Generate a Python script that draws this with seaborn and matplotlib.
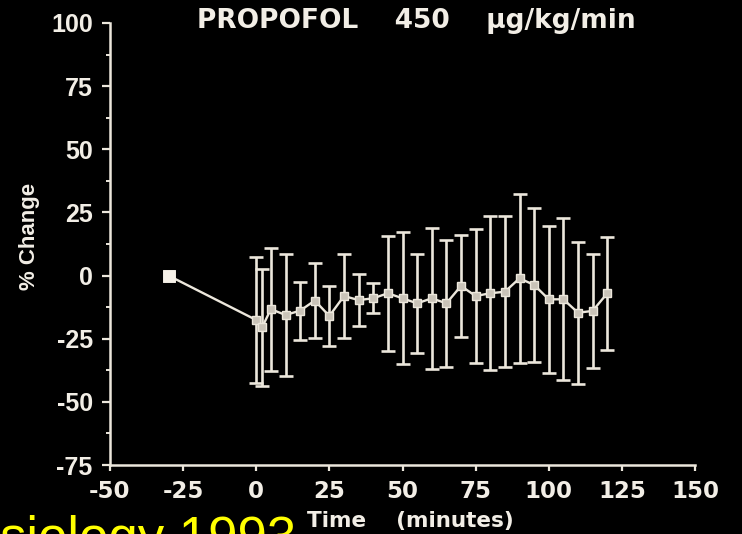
import matplotlib
matplotlib.use("Agg")
import matplotlib.pyplot as plt
import seaborn as sns
import pandas as pd
from matplotlib.ticker import MultipleLocator

# ---- data ----
time_min = [-30, 0, 2, 5, 10, 15, 20, 25, 30, 35, 40, 45, 50, 55, 60, 65, 70,
            75, 80, 85, 90, 95, 100, 105, 110, 115, 120]
pct_change = [0, -17.6, -20.5, -13.3, -15.6, -13.9, -9.9, -16.0, -8.1, -9.7, -9.0,
              -7.0, -9.0, -11.0, -9.0, -11.0, -4.1, -8.1, -7.0, -6.4, -1.1, -3.7,
              -9.4, -9.4, -14.7, -14.0, -7.0]
sd_change = [0, 25.0, 23.2, 24.4, 24.2, 11.5, 15.0, 11.7, 16.5, 10.4, 6.0,
             22.8, 26.2, 19.7, 28.0, 25.2, 20.3, 26.4, 30.4, 29.8, 33.4, 30.4,
             29.0, 32.0, 28.1, 22.6, 22.4]
x_ticks = [-50, -25, 0, 25, 50, 75, 100, 125, 150]
y_ticks = [-75, -50, -25, 0, 25, 50, 75, 100]
title_text = "PROPOFOL    450    \u03bcg/kg/min"
x_label = "Time    (minutes)"
y_label = "% Change"
source_text = "siology 1993"

sns.set_theme(style="ticks")
plt.rcParams["font.family"] = ["DejaVu Sans"]
plt.rcParams["axes.unicode_minus"] = False

LN = "#ece7dc"
TXT = "#f2eee6"

df = pd.DataFrame({"time": time_min, "change": pct_change, "sd": sd_change})

fig = plt.figure(figsize=(7.42, 5.34), dpi=100, facecolor="black")
ax = fig.add_axes([110 / 742, 1 - 465 / 534, 585 / 742, 442 / 534])
ax.set_facecolor("black")

post = df[df["time"] >= 0]
ax.errorbar(post["time"], post["change"], yerr=post["sd"], fmt="none",
            ecolor=LN, elinewidth=1.9, capsize=5, capthick=1.9, zorder=2)
sns.lineplot(data=df, x="time", y="change", ax=ax, color=LN, lw=1.7,
             marker="s", markersize=6, markerfacecolor="#c9c3b8",
             markeredgecolor=LN, markeredgewidth=1, zorder=3, errorbar=None)
sns.scatterplot(data=df.iloc[:1], x="time", y="change", ax=ax, marker="s",
                s=70, color="#f6f1e8", edgecolor="#f6f1e8", zorder=4)

ax.set_xlim(-50, 150)
ax.set_ylim(-75, 100)
ax.set_xticks(x_ticks)
ax.set_yticks(y_ticks)
ax.yaxis.set_minor_locator(MultipleLocator(12.5))
ax.set_xlabel("")
ax.set_ylabel("")

for s in ["top", "right"]:
    ax.spines[s].set_visible(False)
for s in ["left", "bottom"]:
    ax.spines[s].set_color(LN)
    ax.spines[s].set_linewidth(1.8)

ax.tick_params(axis="y", which="major", direction="out", length=5.5, width=1.6,
               color=LN, pad=7, labelcolor=TXT)
ax.tick_params(axis="y", which="minor", direction="out", length=3, width=1.4, color=LN)
ax.tick_params(axis="x", which="major", direction="out", length=4, width=1.6,
               color=LN, pad=7, labelcolor=TXT)
for lab in ax.get_yticklabels():
    lab.set_fontfamily("Liberation Sans")
    lab.set_fontweight("bold")
    lab.set_fontsize(18)
for lab in ax.get_xticklabels():
    lab.set_fontfamily("DejaVu Sans")
    lab.set_fontweight("bold")
    lab.set_fontsize(16.5)

fig.text(416 / 742, 1 - 21 / 534, title_text, ha="center", va="center",
         fontsize=19, fontweight="bold", color=TXT, family="DejaVu Sans")
fig.text(29 / 742, 1 - 236 / 534, y_label, ha="center", va="center", rotation=90,
         fontsize=16, fontweight="bold", color=TXT, family="Liberation Sans")
fig.text(410 / 742, 1 - 521 / 534, x_label, ha="center", va="center",
         fontsize=15.5, fontweight="bold", color=TXT, family="DejaVu Sans")
fig.text(0, -20 / 534, source_text, ha="left", va="baseline",
         fontsize=38, color="#ffff00", family="Liberation Sans")

fig.savefig("out.png", dpi=100, facecolor="black")
